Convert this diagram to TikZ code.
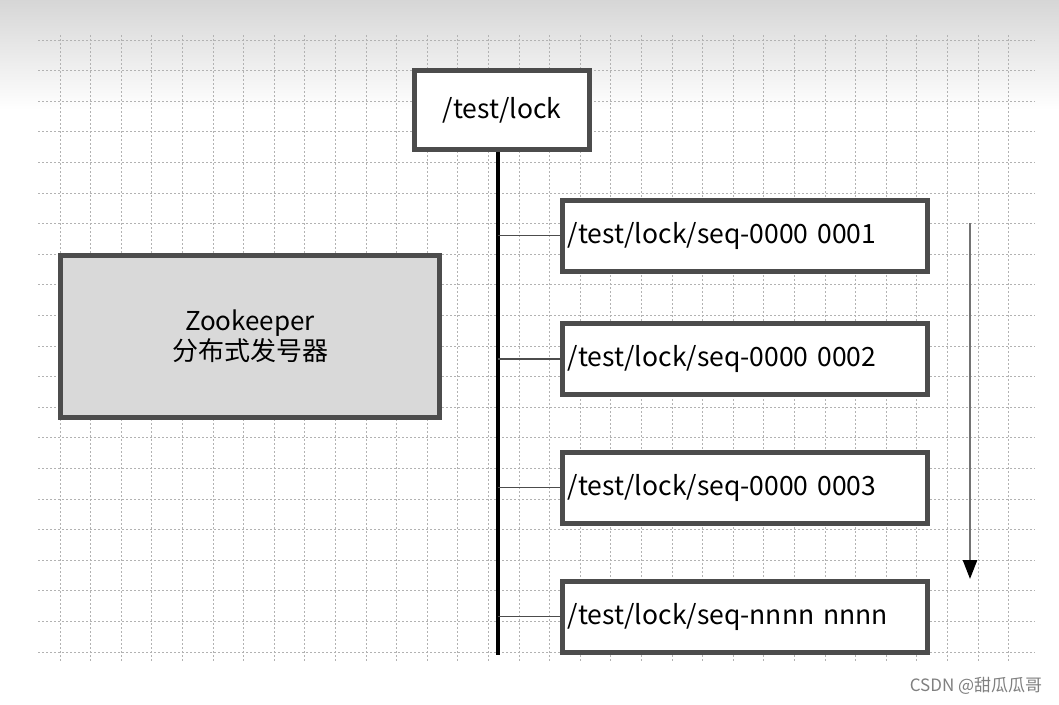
\documentclass[tikz,border=0pt]{standalone}
\usepackage{fontspec}
\setmainfont{Noto Sans CJK SC}
\usepackage{tikz}
\usetikzlibrary{arrows.meta,positioning}

\begin{document}
\begin{tikzpicture}[
  x=1pt, y=-1pt,
  gridline/.style={draw=black!30, dash pattern=on 2pt off 2pt, line width=0.7pt},
  lockbox/.style={draw=black!70, line width=5pt, fill=white, minimum width=175pt, minimum height=79pt, font=\fontsize{26.5}{31}\selectfont},
  seqbox/.style={draw=black!70, line width=5pt, fill=white, text width=355pt, align=left, inner xsep=5pt, minimum height=71pt, font=\fontsize{26.5}{31}\selectfont},
  genbox/.style={draw=black!70, line width=5pt, fill=black!15, minimum width=379pt, minimum height=162pt, align=center, font=\fontsize{26}{30}\selectfont},
  branch/.style={draw=black!70, line width=1.8pt},
]
\useasboundingbox (0,0) rectangle (1059,704);
% Background
\fill[white] (0,0) rectangle (1059,704);
\shade[top color=black!16, bottom color=white] (0,0) rectangle (1059,110);
\foreach \gx in {0,...,31}
  \draw[gridline] ({60+30.6*\gx},35) -- ({60+30.6*\gx},662);
\foreach \gy in {0,...,20}
  \draw[gridline] (38,{40+30.6*\gy}) -- (1035,{40+30.6*\gy});

% Generator
\node[genbox] (gen) at (250,336.5) {Zookeeper\\分布式发号器};

% Parent node
\node[lockbox] (lock) at (502,110) {/test/lock};

% Sequential children
\node[seqbox] (seq1) at (745,235.5) {/test/lock/seq-0000 0001};
\node[seqbox] (seq2) at (745,359) {/test/lock/seq-0000 0002};
\node[seqbox] (seq3) at (745,487.5) {/test/lock/seq-0000 0003};
\node[seqbox] (seq4) at (745,616.5) {/test/lock/seq-nnnn nnnn};

% Trunk and branches
\coordinate (trunk) at (498,655);
\draw[line width=4pt] (lock.south -| trunk) -- (trunk);
\foreach \s in {seq1,seq2,seq3,seq4}
  \draw[branch] (\s.west -| trunk) -- (\s.west);

% Order arrow
\coordinate (ordtop) at (970,223);
\coordinate (ordend) at (970,579);
\draw[black!55, line width=2.5pt, -{Triangle[black, length=19pt, width=14pt]}] (ordtop) -- (ordend);

% Watermark
\node[text=black!50, font=\fontsize{17}{20}\selectfont] (wm) at (976,686) {CSDN @甜瓜瓜哥};
\end{tikzpicture}
\end{document}
